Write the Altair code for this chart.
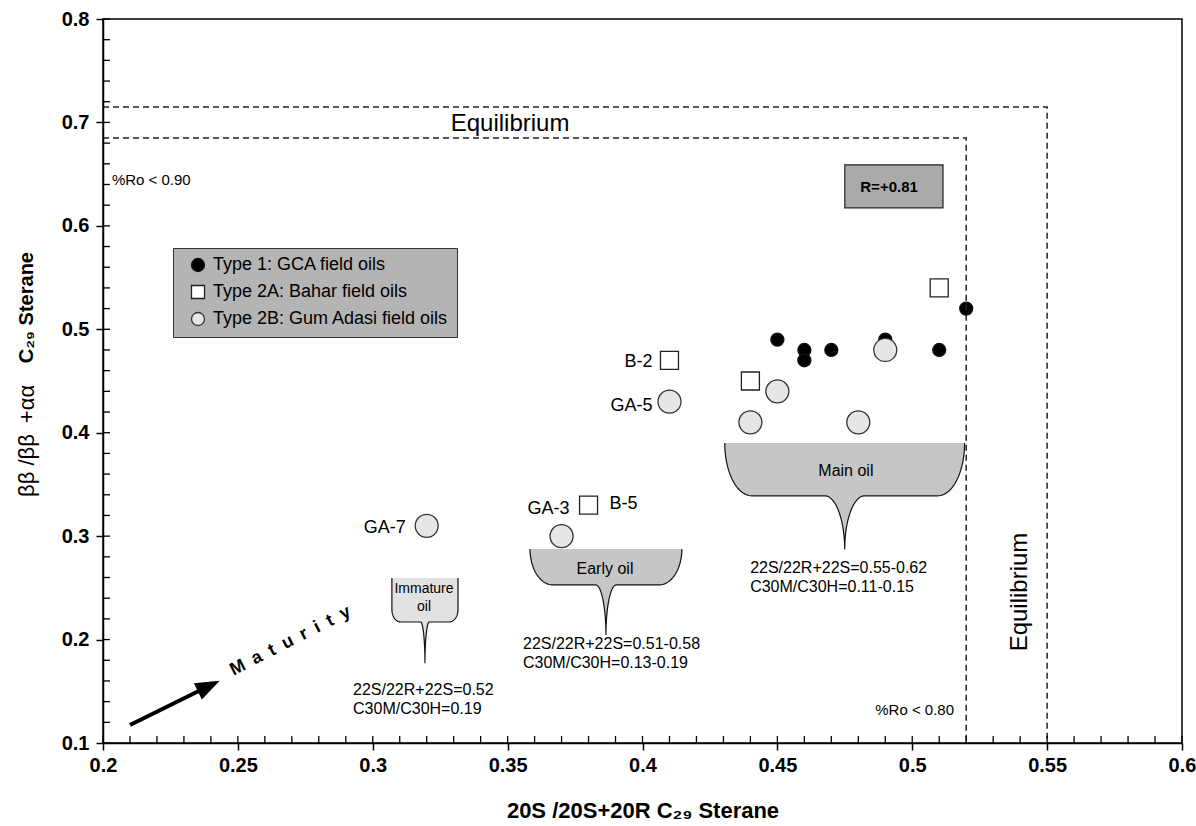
import altair as alt
import pandas as pd
import numpy as np

FONT = "Liberation Sans"

# ---------------- values ----------------
TYPES = ["Type 1: GCA field oils", "Type 2A: Bahar field oils", "Type 2B: Gum Adasi field oils"]

type1_x = [0.45, 0.46, 0.46, 0.47, 0.49, 0.51, 0.52]
type1_y = [0.49, 0.48, 0.47, 0.48, 0.49, 0.48, 0.52]

type2a_x = [0.38, 0.41, 0.44, 0.51]
type2a_y = [0.33, 0.47, 0.45, 0.54]

type2b_x = [0.32, 0.37, 0.41, 0.44, 0.45, 0.48, 0.49]
type2b_y = [0.31, 0.30, 0.43, 0.41, 0.44, 0.41, 0.48]

label_text = ["B-2", "GA-5", "GA-7", "GA-3", "B-5"]
label_x = [0.41, 0.41, 0.32, 0.37, 0.38]
label_y = [0.47, 0.43, 0.31, 0.30, 0.33]

x_ticks = [0.2, 0.25, 0.3, 0.35, 0.4, 0.45, 0.5, 0.55, 0.6]
y_ticks = [0.1, 0.2, 0.3, 0.4, 0.5, 0.6, 0.7, 0.8]

# equilibrium boundaries (dashed)
eq_outer = {"x": [0.2, 0.55, 0.55], "y": [0.715, 0.715, 0.1]}
eq_inner = {"x": [0.2, 0.52, 0.52], "y": [0.685, 0.685, 0.1]}

# ---------------- styling / annotation geometry ----------------
xs = alt.Scale(domain=[0.2, 0.6], nice=False, zero=False)
ys = alt.Scale(domain=[0.1, 0.8], nice=False, zero=False)

W, H = 1079, 724

legend = alt.Legend(
    title=None, orient="none", legendX=70, legendY=229,
    fillColor="#b4b4b4", strokeColor="#333333", padding=8,
    symbolOffset=8, labelOffset=6, rowPadding=7, labelLimit=500,
    labelFont=FONT, labelFontSize=18, labelColor="black",
    symbolSize=169, symbolStrokeWidth=1.3, symbolOpacity=1,
)

x_axis = alt.Axis(
    values=x_ticks, format="~g", title="20S /20S+20R C\u2082\u2089 Sterane",
    titleFont=FONT, titleFontSize=22, titleFontWeight="bold", titleColor="black", titlePadding=25,
    labelFont=FONT, labelFontSize=20, labelFontWeight="bold", labelColor="black",
    labelPadding=5, labelFlush=False, labelOverlap=False,
    tickSize=7, tickWidth=1.5, tickColor="black", domainColor="black", domainWidth=1.5, grid=False,
)
y_axis = alt.Axis(
    values=y_ticks, format="~g", title=None,
    labelFont=FONT, labelFontSize=20, labelFontWeight="bold", labelColor="black",
    labelPadding=7, labelOverlap=False,
    tickSize=7, tickWidth=1.5, tickColor="black", domainColor="black", domainWidth=1.5, grid=False,
)


def X(f, axis=None):
    if axis is None:
        return alt.X(f, type="quantitative", scale=xs)
    return alt.X(f, type="quantitative", scale=xs, axis=axis)


def Y(f, axis=None):
    if axis is None:
        return alt.Y(f, type="quantitative", scale=ys)
    return alt.Y(f, type="quantitative", scale=ys, axis=axis)


def text_layer(txt, x, y, size, weight="normal", align="center", baseline="middle", angle=0, dx=0, dy=0):
    df = pd.DataFrame({"x": [x], "y": [y], "t": [txt]})
    return alt.Chart(df).mark_text(
        font=FONT, fontSize=size, fontWeight=weight, align=align, baseline=baseline,
        angle=angle, dx=dx, dy=dy, color="black",
    ).encode(x=X("x"), y=Y("y"), text="t:N")


def funnel(name, xl, xr, ytop, ybot, ytip, rx, ry, sw, n=30):
    xc = (xl + xr) / 2
    h = ytop - ybot
    ry = min(ry, h)
    pts = [(xl, ytop)]
    if ry < h:
        pts.append((xl + 1e-6, ybot + ry))
    for t in np.linspace(0, np.pi / 2, n)[1:]:
        pts.append((xl + rx - rx * np.cos(t), ybot + ry - ry * np.sin(t)))
    d = ybot - ytip
    for t in np.linspace(0, np.pi / 2, n):
        pts.append((xc - sw + sw * np.sin(t), ytip + d * np.cos(t)))
    right = [(2 * xc - px, py) for (px, py) in reversed(pts[:-1])]
    allp = pts + right
    return pd.DataFrame({
        "name": name,
        "x": [p[0] for p in allp],
        "y": [p[1] for p in allp],
        "ytop": ytop,
        "idx": range(len(allp)),
    })


layers = []

# data points first (they carry the axes and the legend)
groups = [
    (TYPES[0], type1_x, type1_y, 169),
    (TYPES[1], type2a_x, type2a_y, 324),
    (TYPES[2], type2b_x, type2b_y, 529),
]
for i, (t, gx, gy, sz) in enumerate(groups):
    df = pd.DataFrame({"x": gx, "y": gy, "type": t})
    layers.append(
        alt.Chart(df).mark_point(size=sz, opacity=1, fillOpacity=1, strokeWidth=1.3).encode(
            x=X("x", x_axis),
            y=Y("y", y_axis),
            shape=alt.Shape("type:N", scale=alt.Scale(domain=TYPES, range=["circle", "square", "circle"]), legend=legend),
            fill=alt.Fill("type:N", scale=alt.Scale(domain=TYPES, range=["#000000", "#ffffff", "#e6e6e6"]), legend=legend),
            stroke=alt.Stroke("type:N", scale=alt.Scale(domain=TYPES, range=["#111111", "#222222", "#333333"]), legend=legend),
        )
    )

f_main = funnel("main", 0.4305, 0.5194, 0.390, 0.339, 0.287, 0.010, 1.0, 0.0074)
f_early = funnel("early", 0.3583, 0.4146, 0.2876, 0.2528, 0.2045, 0.0085, 1.0, 0.0038)
f_imm = funnel("imm", 0.3071, 0.3316, 0.2596, 0.217, 0.177, 0.0033, 0.012, 0.0016)

for df, col in [(f_main, "#c6c6c6"), (f_early, "#c6c6c6"), (f_imm, "#e2e2e2")]:
    layers.append(alt.Chart(df).mark_area(color=col, opacity=1).encode(x=X("x"), y=Y("y"), y2="ytop"))
layers.append(
    alt.Chart(pd.concat([f_main, f_early, f_imm])).mark_line(color="#111111", strokeWidth=1.2).encode(
        x=X("x"), y=Y("y"), detail="name:N", order="idx:Q"
    )
)

# dashed equilibrium lines
eq = pd.concat([
    pd.DataFrame({"name": "outer", "x": eq_outer["x"], "y": eq_outer["y"], "idx": range(3)}),
    pd.DataFrame({"name": "inner", "x": eq_inner["x"], "y": eq_inner["y"], "idx": range(3)}),
])
layers.append(
    alt.Chart(eq).mark_line(color="#222222", strokeWidth=1.5, strokeDash=[6, 4]).encode(
        x=X("x"), y=Y("y"), detail="name:N", order="idx:Q"
    )
)

# R box
rbox = pd.DataFrame({"x": [0.475], "x2": [0.5114], "y": [0.6174], "y2": [0.659]})
layers.append(
    alt.Chart(rbox).mark_rect(fill="#aaaaaa", stroke="#222222", strokeWidth=1.2).encode(
        x=X("x"), x2="x2", y=Y("y"), y2="y2"
    )
)

# inward minor ticks
xm = pd.DataFrame({"v": np.round(np.arange(0.20, 0.6001, 0.01), 2)})
ym = pd.DataFrame({"v": np.round(np.arange(0.10, 0.8001, 0.02), 2)})
layers.append(
    alt.Chart(xm).mark_rule(color="black", strokeWidth=1.3).encode(
        x=X("v"), y=alt.value(H), y2=alt.value(H - 7)
    )
)
layers.append(
    alt.Chart(ym).mark_rule(color="black", strokeWidth=1.3).encode(
        y=Y("v"), x=alt.value(0), x2=alt.value(7)
    )
)

# maturity arrow
arrow = pd.DataFrame({"x": [0.21, 0.2389], "y": [0.1174, 0.1547], "idx": [0, 1]})
layers.append(
    alt.Chart(arrow).mark_line(color="black", strokeWidth=4).encode(x=X("x"), y=Y("y"), order="idx:Q")
)
layers.append(
    alt.Chart(arrow.iloc[[1]]).mark_point(
        shape="M 1 0 L -1 -0.75 L -1 0.75 Z", size=420, angle=334, filled=True,
        fill="black", stroke="black", opacity=1,
    ).encode(x=X("x"), y=Y("y"))
)

# text annotations
layers += [
    text_layer("Equilibrium", 0.3509, 0.6987, 24),
    text_layer("Equilibrium", 0.54, 0.246, 24, angle=270),
    text_layer("%Ro < 0.90", 0.2033, 0.6445, 15, align="left"),
    text_layer("%Ro < 0.80", 0.5155, 0.1319, 15, align="right"),
    text_layer("R=+0.81", 0.4914, 0.6377, 15, weight="bold"),
    text_layer("Main oil", 0.4754, 0.3631, 16),
    text_layer("Early oil", 0.3861, 0.2683, 16),
    text_layer("Immature", 0.319, 0.2489, 14),
    text_layer("oil", 0.319, 0.2315, 14),
    text_layer("22S/22R+22S=0.55-0.62", 0.4399, 0.2692, 16, align="left"),
    text_layer("C30M/C30H=0.11-0.15", 0.4399, 0.2509, 16, align="left"),
    text_layer("22S/22R+22S=0.51-0.58", 0.3557, 0.1957, 16, align="left"),
    text_layer("C30M/C30H=0.13-0.19", 0.3557, 0.1774, 16, align="left"),
    text_layer("22S/22R+22S=0.52", 0.2927, 0.1513, 16, align="left"),
    text_layer("C30M/C30H=0.19", 0.2927, 0.1329, 16, align="left"),
    text_layer("M\u2002a\u2002t\u2002u\u2002r\u2002i\u2002t\u2002y", 0.2695, 0.1986, 18, weight="bold", angle=333),
]

# point labels
label_style = {
    "B-2": dict(align="right", dx=-17, dy=2),
    "GA-5": dict(align="right", dx=-17, dy=4),
    "GA-7": dict(align="right", dx=-21, dy=2),
    "GA-3": dict(align="right", dx=8, dy=-27),
    "B-5": dict(align="left", dx=21, dy=-1),
}
for t, lx, ly in zip(label_text, label_x, label_y):
    s = label_style[t]
    layers.append(text_layer(t, lx, ly, 18, align=s["align"], dx=s["dx"], dy=s["dy"]))

# y-axis title (mixed weight)
dummy = pd.DataFrame({"a": [0]})
layers.append(
    alt.Chart(dummy).mark_text(
        font=FONT, fontSize=22, angle=270, align="left", baseline="middle", color="black",
        text="\u03b2\u03b2 /\u03b2\u03b2\u2002+\u03b1\u03b1",
    ).encode(x=alt.value(-76), y=alt.value(478))
)
layers.append(
    alt.Chart(dummy).mark_text(
        font=FONT, fontSize=20, fontWeight="bold", angle=270, align="right", baseline="middle", color="black",
        text="C\u2082\u2089 Sterane",
    ).encode(x=alt.value(-76), y=alt.value(233))
)

chart = alt.layer(*layers).properties(
    width=W, height=H,
    autosize=alt.AutoSizeParams(type="none"),
    padding={"left": 103, "top": 19, "right": 14, "bottom": 83},
    background="white",
).configure_view(
    stroke="black", strokeWidth=1.5
).configure_axis(
    grid=False, domainColor="black", tickColor="black", labelColor="black"
)

chart.save("out.html", embed_options={"renderer": "svg", "actions": False})
